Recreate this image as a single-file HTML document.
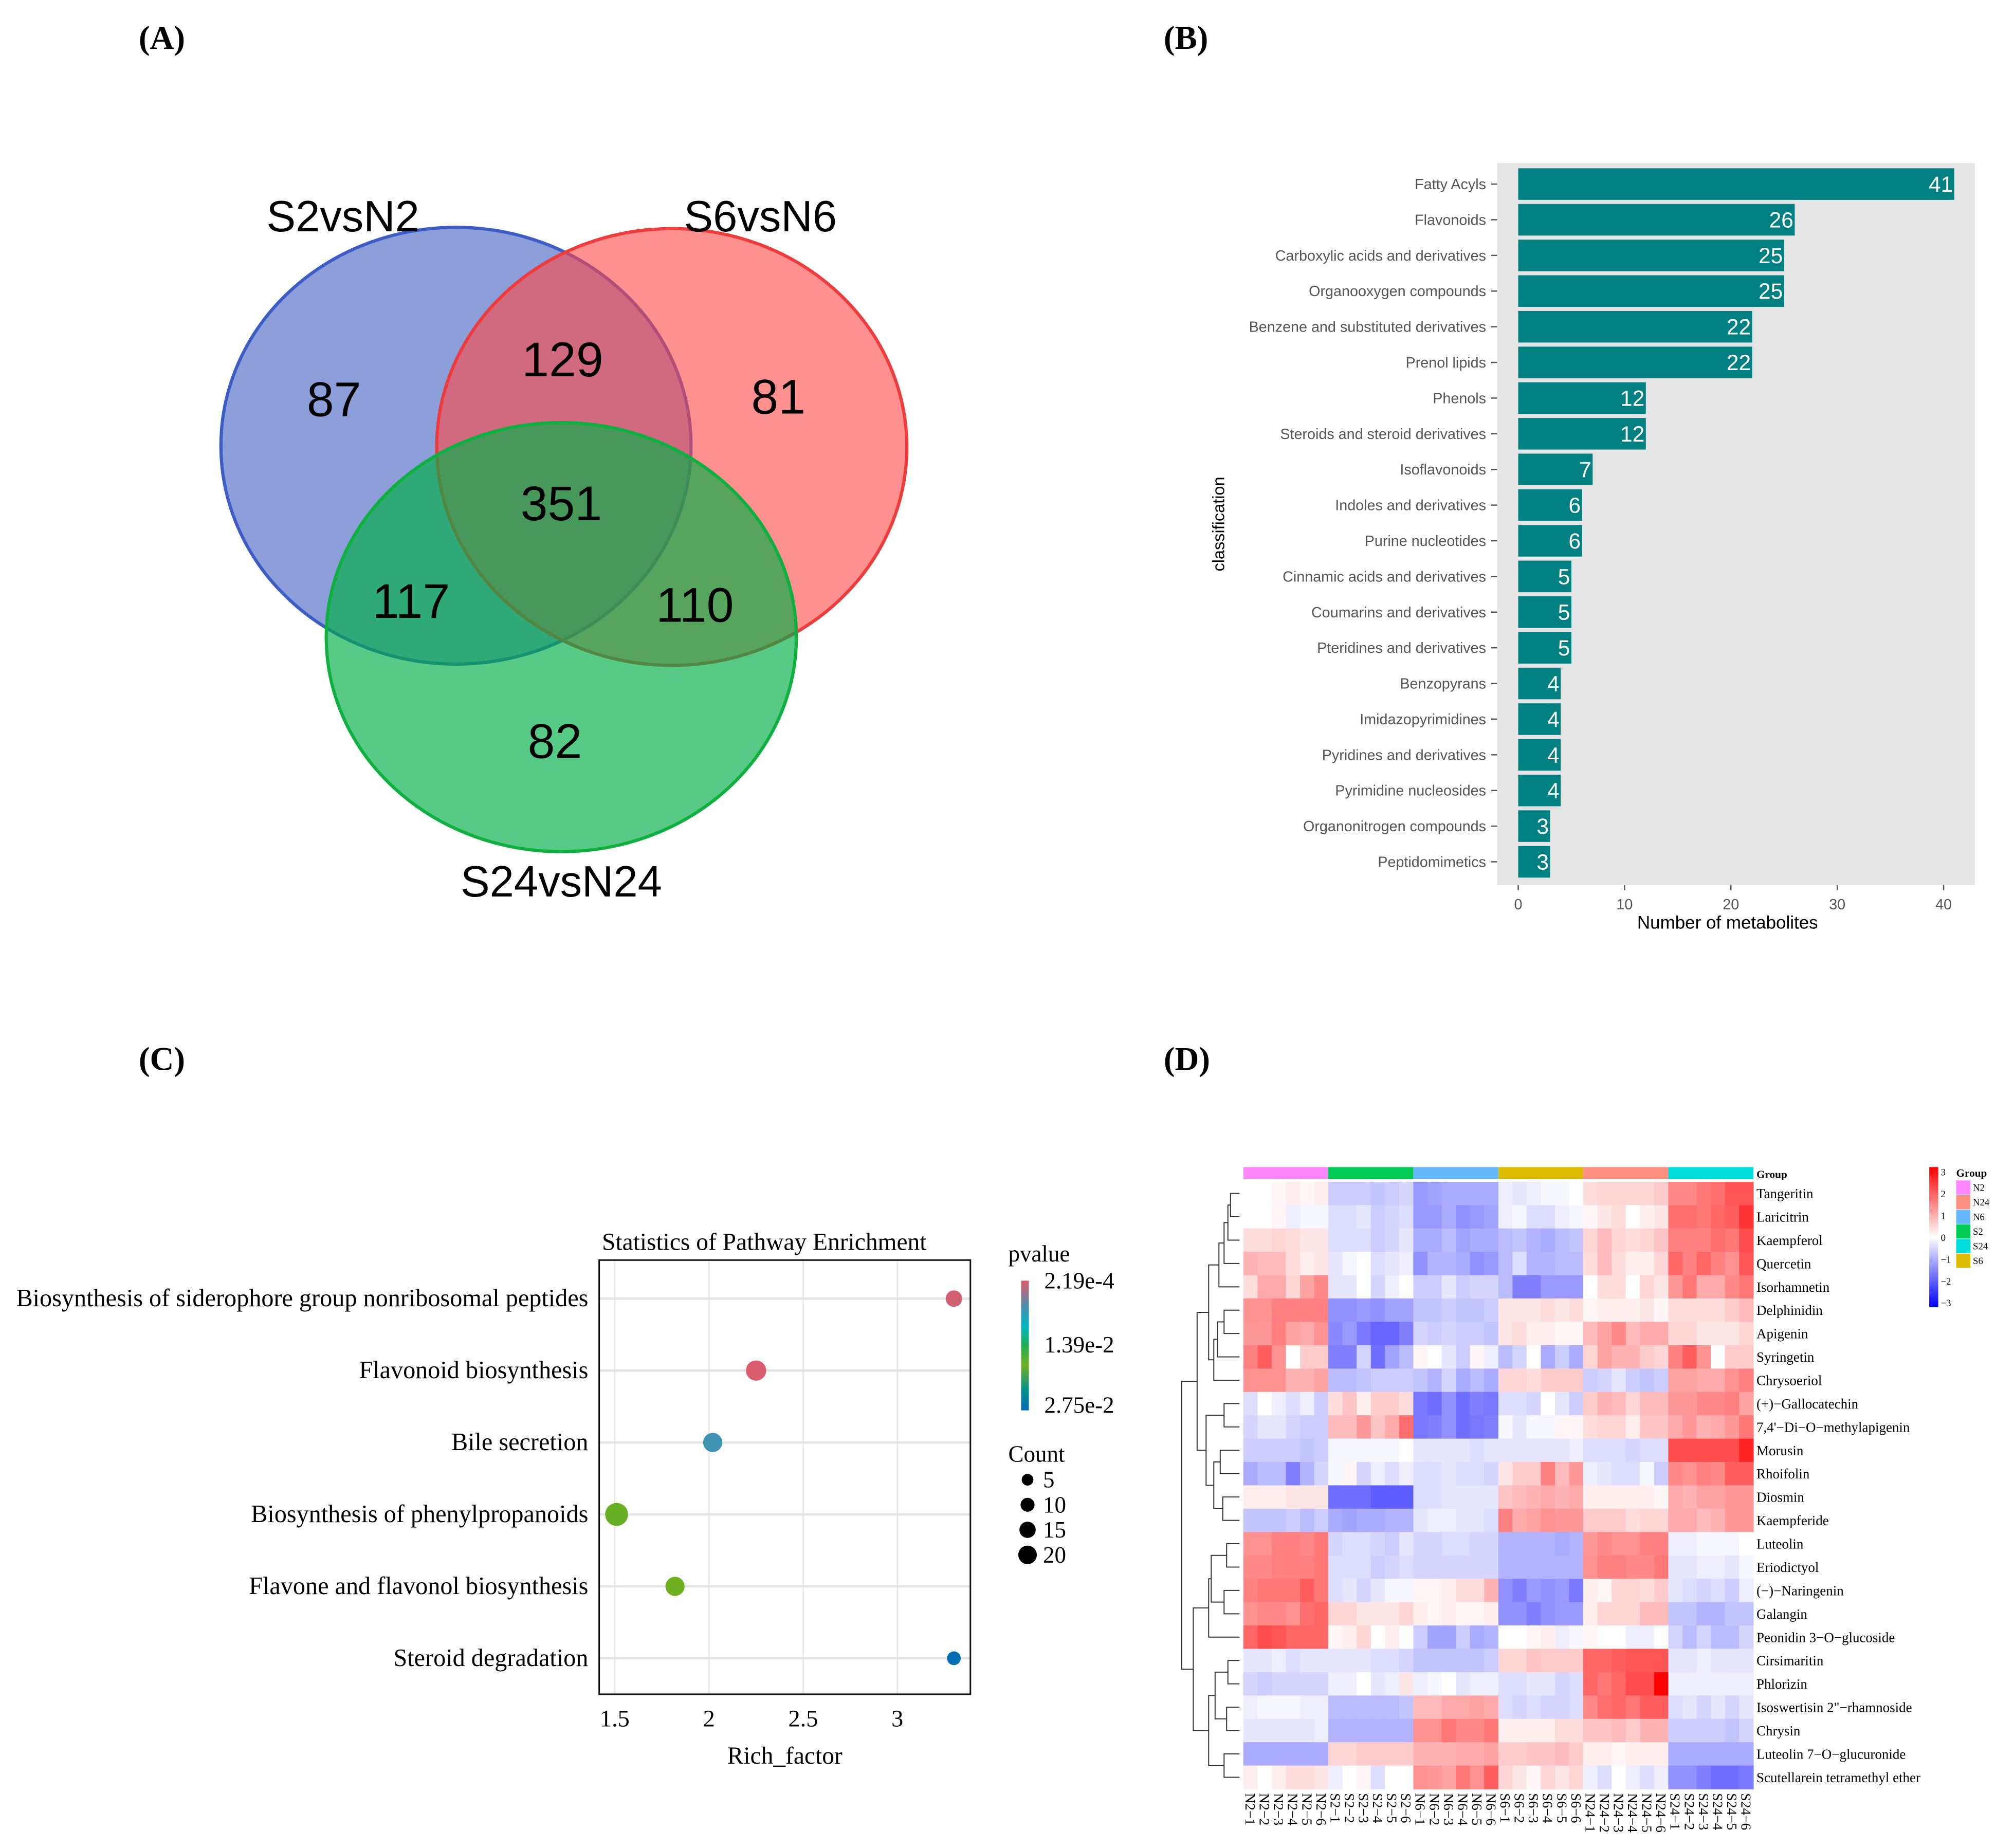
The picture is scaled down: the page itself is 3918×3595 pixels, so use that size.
<!DOCTYPE html>
<html><head><meta charset="utf-8"><style>
html,body{margin:0;padding:0;background:#fff;}
svg{display:block;}
</style></head><body>
<svg id="fig" xmlns="http://www.w3.org/2000/svg" width="3918" height="3595" viewBox="0 0 1568 1438.7" preserveAspectRatio="none">
<rect x="0" y="0" width="1568" height="1438.7" fill="#fff"/>
<g font-family="Liberation Serif, serif" font-weight="bold" font-size="26" fill="#000">
<text x="108" y="38">(A)</text>
<text x="906" y="38">(B)</text>
<text x="108" y="833">(C)</text>
<text x="906" y="833">(D)</text>
</g>
<g id="venn"></g>
<g id="bars"></g>
<g id="bubble"></g>
<g id="heat"></g>
</svg>
<script>
// ---------- Venn data ----------
const vennSets = ["S2vsN2","S6vsN6","S24vsN24"];
const vennCounts = [87,129,81,351,117,110,82];
// ---------- Bar data ----------
const barCategories = ["Fatty Acyls","Flavonoids","Carboxylic acids and derivatives","Organooxygen compounds","Benzene and substituted derivatives","Prenol lipids","Phenols","Steroids and steroid derivatives","Isoflavonoids","Indoles and derivatives","Purine nucleotides","Cinnamic acids and derivatives","Coumarins and derivatives","Pteridines and derivatives","Benzopyrans","Imidazopyrimidines","Pyridines and derivatives","Pyrimidine nucleosides","Organonitrogen compounds","Peptidomimetics"];
const barValues = [41,26,25,25,22,22,12,12,7,6,6,5,5,5,4,4,4,4,3,3];
const barTicks = [0,10,20,30,40];
// ---------- Bubble data ----------
const pathways = ["Biosynthesis of siderophore group nonribosomal peptides","Flavonoid biosynthesis","Bile secretion","Biosynthesis of phenylpropanoids","Flavone and flavonol biosynthesis","Steroid degradation"];
const richFactor = [3.3,2.25,2.02,1.51,1.82,3.3];
const pathCount = [10,17,15,22,15,5];
const pathPvalue = [0.0008,0.0004,0.0062,0.0175,0.0180,0.0272];
const richTicks = [1.5,2,2.5,3];
const countLegend = [5,10,15,20];
// ---------- Heatmap data ----------
const heatRows = ["Tangeritin","Laricitrin","Kaempferol","Quercetin","Isorhamnetin","Delphinidin","Apigenin","Syringetin","Chrysoeriol","(+)\u2212Gallocatechin","7,4'\u2212Di\u2212O\u2212methylapigenin","Morusin","Rhoifolin","Diosmin","Kaempferide","Luteolin","Eriodictyol","(\u2212)\u2212Naringenin","Galangin","Peonidin 3\u2212O\u2212glucoside","Cirsimaritin","Phlorizin","Isoswertisin 2\"\u2212rhamnoside","Chrysin","Luteolin 7\u2212O\u2212glucuronide","Scutellarein tetramethyl ether"];
const heatGroups = ["N2","S2","N6","S6","N24","S24"];
const heatValues = [
[0,0,0.1,0.2,0.1,0.2, -0.6,-0.6,-0.6,-0.7,-0.6,-0.5, -1.2,-1.1,-1,-1,-1,-1, -0.2,-0.3,-0.2,-0.1,-0.1,0, 0.4,0.5,0.5,0.5,0.5,0.6, 1.4,1.4,1.6,1.7,2,2],
[0,0,0.1,-0.2,-0.1,-0.1, -0.4,-0.4,-0.3,-0.6,-0.5,-0.4, -1.2,-1.2,-1,-1.3,-1.2,-1.1, -0.2,-0.1,-0.4,-0.4,-0.2,-0.1, 0.1,0.3,0.4,0,0.2,0.3, 1.7,1.7,1.6,1.8,1.9,2.4],
[0.4,0.4,0.5,0.4,0.3,0.3, -0.4,-0.4,-0.4,-0.6,-0.5,-0.3, -1,-1,-0.8,-1.1,-1,-1, -0.8,-0.7,-0.9,-1,-0.8,-0.7, 0.5,0.8,0.5,0.4,0.5,0.7, 1.5,1.5,1.5,1.7,1.6,2.1],
[0.9,0.8,0.8,0.4,0.2,0.3, -0.3,-0.1,0,-0.4,-0.3,-0.2, -1.3,-0.9,-0.9,-1,-1.3,-1.2, -0.8,-0.4,-0.9,-0.9,-0.8,-0.8, 0.4,0.8,0.4,0.2,0.2,0.5, 1.8,1.5,1.8,1.5,1.3,2],
[0.4,1,1,0.5,1.1,1.4, -0.3,-0.3,0,-0.5,-0.2,0, -0.6,-0.6,-0.3,-0.6,-0.5,-0.5, -0.8,-1.5,-1.5,-1.2,-1.2,-1.2, 0,0.4,0.4,0,0.5,0.3, 1.2,1.6,1,1,1.4,1.6],
[1.3,1.3,1.5,1.5,1.5,1.5, -1.3,-1.3,-1.2,-1.3,-1.1,-1.1, -0.7,-0.7,-0.6,-0.7,-0.7,-0.6, 0.3,0.3,0.3,0.4,0.3,0.4, 0.1,0.2,0.2,0.2,0.3,0.1, 0.4,0.4,0.4,0.4,0.6,0.8],
[1.2,1.2,1.5,1.1,1,1.3, -1.4,-1.2,-1.6,-1.8,-1.8,-1.5, -0.5,-0.6,-0.5,-0.6,-0.6,-0.7, 0.3,0.4,0.2,0.2,0.1,0.1, 0.8,1.1,1.4,0.8,1,1, 0.5,0.5,0.3,0.3,0.3,0.5],
[1.5,1.9,1.3,0,0.6,0.6, -1.5,-1.5,-0.5,-1.7,-1.1,-0.8, 0.1,0,-0.3,-0.6,0.1,-0.2, -0.8,-0.5,0,-1,-0.6,-1, 0.5,1.1,0.9,0.9,0.6,0.5, 1.5,1.9,1.3,0,0.6,0.6],
[1.3,1.3,1.3,0.9,0.9,1.1, -0.8,-0.8,-0.7,-0.6,-0.6,-0.6, -0.7,-0.9,-0.5,-1,-0.8,-1, 0.5,0.5,0.4,0.6,0.6,0.6, -0.6,-0.5,-0.3,-0.6,-0.7,-0.6, 1.1,1.1,1,1,1.3,1.5],
[-0.4,0,-0.2,-0.4,-0.2,-0.6, 0.4,0.7,0.2,0.6,0.6,0.4, -1.6,-1.7,-1.3,-1.7,-1.5,-1.6, -0.4,-0.4,-0.5,0,-0.3,-0.6, 0.6,0.9,0.8,0.5,0.8,0.8, 1.2,1.2,1.4,1.4,1.5,1.1],
[-0.5,-0.3,-0.3,-0.5,-0.6,-0.6, 0.8,0.8,1.2,0.7,1,1.7, -1.6,-1.5,-1.3,-1.7,-1.6,-1.5, -0.1,-0.3,-0.1,-0.1,0.1,0.1, 0.4,0.5,0.5,0.2,0.7,0.7, 1,1.2,0.9,1,1.2,1.6],
[-0.6,-0.6,-0.6,-0.6,-0.7,-0.6, -0.1,-0.1,-0.1,-0.1,-0.1,0, -0.3,-0.3,-0.3,-0.3,-0.4,-0.3, -0.3,-0.3,-0.3,-0.3,-0.3,-0.2, -0.4,-0.4,-0.4,-0.5,-0.4,-0.4, 2.1,2.1,2.1,2.1,2.1,2.6],
[-1,-0.8,-0.8,-1.5,-0.9,-0.5, -0.1,0.1,-0.5,-0.2,-0.4,-0.2, -0.4,-0.4,-0.3,-0.4,-0.4,-0.5, 0.3,0.6,0.6,1.5,0.8,1.2, -0.2,-0.3,-0.4,-0.4,-0.1,-0.6, 1.4,1.3,1.5,1.4,1.9,1.9],
[0.2,0.2,0.2,0.3,0.3,0.3, -1.7,-1.7,-1.7,-1.9,-1.9,-1.9, -0.4,-0.4,-0.3,-0.3,-0.3,-0.3, 0.7,0.8,0.9,1,0.9,1, 0.2,0.2,0.2,0.2,0.2,0.1, 1,0.9,1.1,1.1,1.2,1.2],
[-0.7,-0.7,-0.7,-0.6,-0.8,-0.6, -1,-1.1,-1,-1,-0.9,-0.9, -0.3,-0.2,-0.2,-0.3,-0.3,-0.4, 1.5,1,1.1,1.3,1.2,1.2, 0.6,0.6,0.6,0.4,0.5,0.5, 1,1,0.8,0.9,1.2,1.2],
[1.3,1.3,1.5,1.5,1.4,1.6, -0.5,-0.4,-0.4,-0.5,-0.6,-0.3, -0.5,-0.5,-0.4,-0.4,-0.5,-0.5, -0.9,-0.9,-0.9,-0.9,-1,-0.9, 1.2,1.4,1.3,1.3,1.5,1.5, -0.2,-0.2,-0.1,-0.1,-0.1,0],
[1.4,1.4,1.5,1.5,1.5,1.6, -0.4,-0.4,-0.4,-0.6,-0.5,-0.4, -0.5,-0.5,-0.5,-0.5,-0.5,-0.5, -0.9,-0.9,-0.9,-0.9,-0.9,-0.9, 1.3,1.5,1.5,1.4,1.4,1.6, -0.3,-0.3,-0.2,-0.2,-0.3,-0.1],
[1.5,1.6,1.6,1.6,1.9,1.6, -0.4,-0.3,-0.5,-0.3,-0.1,-0.1, 0.1,0.1,0.2,0.4,0.4,0.9, -1.3,-1.5,-1.2,-1.3,-1.2,-1.6, 0.2,0.1,0.5,0.5,0.4,0.6, -0.3,-0.4,-0.5,-0.4,-0.6,-0.2],
[1.3,1.4,1.4,1.3,1.7,1.8, 0.5,0.5,0.3,0.3,0.3,0.5, 0.2,0.1,0.2,0.1,0.1,0.2, -1.3,-1.3,-1.5,-1.3,-1.2,-1.2, 0.2,0.5,0.5,0.5,0.8,0.8, -0.7,-0.7,-0.9,-0.9,-0.7,-0.7],
[1.8,2.1,2,1.8,1.8,1.8, 0.1,0.2,0.5,0,0.2,0, -0.6,-1.1,-1.1,-0.6,-1,-0.9, 0,0,0.1,0.2,-0.2,-0.1, 0.1,0,0,-0.2,-0.2,0, -0.5,-0.8,-0.5,-0.8,-0.8,-0.5],
[-0.3,-0.3,-0.2,-0.4,-0.3,-0.3, -0.3,-0.3,-0.3,-0.4,-0.4,-0.5, -0.7,-0.7,-0.7,-0.7,-0.7,-0.6, 0.5,0.5,0.7,0.6,0.6,0.6, 1.8,1.8,1.9,2,2,2, -0.3,-0.3,-0.2,-0.3,-0.3,-0.3],
[-0.5,-0.6,-0.5,-0.5,-0.5,-0.5, -0.2,-0.2,0,-0.3,-0.2,0.3, -0.2,-0.1,0,-0.3,-0.2,-0.2, -0.4,-0.4,-0.3,-0.3,-0.5,-0.4, 1.8,1.6,1.8,2.1,2.1,3, -0.2,-0.2,-0.2,-0.2,-0.2,-0.2],
[-0.2,-0.1,-0.1,-0.1,-0.2,-0.2, -0.8,-0.8,-0.8,-0.8,-0.8,-0.7, 0.8,0.8,1,1,1.1,1, -0.4,-0.5,-0.4,-0.5,-0.5,-0.4, 1.4,1.7,1.8,1.6,1.9,1.9, -0.4,-0.3,-0.5,-0.3,-0.5,-0.3],
[-0.3,-0.3,-0.3,-0.3,-0.3,-0.2, -0.9,-0.9,-0.9,-0.9,-0.9,-0.9, 1.3,1.3,1.6,1.4,1.4,1.6, 0.2,0.2,0.2,0.2,0.4,0.4, 0.7,0.7,0.8,0.6,0.9,0.9, -0.6,-0.6,-0.6,-0.6,-0.7,-0.5],
[-1,-1,-1,-1,-1,-1, 0.5,0.5,0.6,0.6,0.6,0.6, 0.9,0.9,0.9,1,1,1.1, 0.6,0.6,0.7,0.7,0.8,0.6, 0.2,0.2,0.1,0.2,0.2,0.2, -1,-1,-1,-1,-1,-1],
[0.2,0,0.2,0.4,0.4,0.3, -0.2,0,0.1,-0.4,0,0, 1.3,1.2,1.1,1.6,1.3,1.9, 0.5,0.3,0.1,0.5,0.3,0.5, -0.2,-0.4,0,-0.2,-0.4,-0.2, -1.3,-1.3,-1.5,-1.7,-1.7,-1.6]
];
const colorTicks = [3,2,1,0,-1,-2,-3];
const legendGroups = ["N2","N24","N6","S2","S24","S6"];

const NS="http://www.w3.org/2000/svg";
function mk(parent,tag,attrs,text){const e=document.createElementNS(NS,tag);for(const k in attrs)e.setAttribute(k,attrs[k]);if(text!==undefined)e.textContent=text;parent.appendChild(e);return e;}

// ===== Venn =====
(function(){
const g=document.getElementById('venn');
const ells=[[355,347,183,170,'rgba(70,100,195,0.62)','#3d5cc4'],[523,348,183,170,'rgba(255,70,70,0.6)','#ee3b3b'],[437,496,183,167,'rgba(0,175,70,0.66)','#10b040']];
ells.forEach((c,i)=>{
 const e=mk(g,'ellipse',{cx:c[0],cy:c[1],rx:c[2],ry:c[3],fill:c[4],stroke:c[5],'stroke-width':2.5});
 
 
});
const lp=[[267,180],[592,180],[437,698]];
vennSets.forEach((s,i)=>{
 const t=mk(g,'text',{x:lp[i][0],y:lp[i][1],'text-anchor':'middle','font-family':'Liberation Sans, sans-serif','font-size':34},s);
 
 
});
const np=[[260,324],[438,293],[606,322],[437,405],[320,481],[541,484],[432,590]];
vennCounts.forEach((v,i)=>{
 const t=mk(g,'text',{x:np[i][0],y:np[i][1],'text-anchor':'middle','font-family':'Liberation Sans, sans-serif','font-size':38},v);
 
 
});
})();

// ===== Bar chart =====
(function(){
const g=document.getElementById('bars');
const x0=1182, sx=8.28, top=131, pitch=27.77, bh=24.6;
const px=v=>x0+v*sx;
const bg=mk(g,'rect',{x:1165.5,y:127,width:372,height:562,fill:'#e5e5e5'});


barCategories.forEach((c,i)=>{
 const y=top+i*pitch;
 const r=mk(g,'rect',{x:x0,y:y,width:px(barValues[i])-x0,height:bh,fill:'#008080'});
 
 
 const v=mk(g,'text',{x:px(barValues[i])-1,y:y+bh/2+6,'text-anchor':'end','font-family':'Liberation Sans, sans-serif','font-size':17,fill:'#fff'},barValues[i]);
 
 
 const l=mk(g,'text',{x:1157,y:y+bh/2+4,'text-anchor':'end','font-family':'Liberation Sans, sans-serif','font-size':11.5,fill:'#555'},c);
 
 
 mk(g,'line',{x1:1161,x2:1165.5,y1:y+bh/2,y2:y+bh/2,stroke:'#555','stroke-width':1});
});
barTicks.forEach(t=>{
 mk(g,'line',{x1:px(t),x2:px(t),y1:689,y2:693,stroke:'#555'});
 const tx=mk(g,'text',{x:px(t),y:708,'text-anchor':'middle','font-family':'Liberation Sans, sans-serif','font-size':11.5,fill:'#555'},t);
 
 
});
const xt=mk(g,'text',{x:1345,y:723,'text-anchor':'middle','font-family':'Liberation Sans, sans-serif','font-size':14},'Number of metabolites');


const yt=mk(g,'text',{x:0,y:0,transform:'translate(953,408) rotate(-90)','text-anchor':'middle','font-family':'Liberation Sans, sans-serif','font-size':13},'classification');


})();

// ===== Bubble chart =====
(function(){
const g=document.getElementById('bubble');
const L=466.5,R=755.5,T=981,B=1319;
const px=v=>478.6+(v-1.5)*146.7;
const rowY=i=>1011+i*56;
const rad=c=>4.3+c*0.21;
const stops=[[0,[224,90,106]],[0.2,[74,143,176]],[0.35,[0,181,197]],[0.5,[32,176,80]],[0.65,[112,176,32]],[0.85,[0,144,143]],[1,[0,106,184]]];
const pmin=0.000219,pmax=0.0275;
function pcol(p){let t=(p-pmin)/(pmax-pmin);t=Math.max(0,Math.min(1,t));
 for(let k=1;k<stops.length;k++){if(t<=stops[k][0]){const a=stops[k-1],b=stops[k];const f=(t-a[0])/(b[0]-a[0]);return 'rgb('+a[1].map((c,j)=>Math.round(c+(b[1][j]-c)*f)).join(',')+')';}}return 'rgb(0,106,184)';}
richTicks.forEach(t=>mk(g,'line',{x1:px(t),x2:px(t),y1:T,y2:B,stroke:'#e6e6e6','stroke-width':1}));
pathways.forEach((p,i)=>mk(g,'line',{x1:L,x2:R,y1:rowY(i),y2:rowY(i),stroke:'#e3e3e3','stroke-width':1.8}));
const fr=mk(g,'rect',{x:L,y:T,width:R-L,height:B-T,fill:'none',stroke:'#111','stroke-width':1.2});


pathways.forEach((p,i)=>{
 const c=mk(g,'circle',{cx:px(richFactor[i]),cy:rowY(i),r:rad(pathCount[i]),fill:pcol(pathPvalue[i])});
 
 
 const l=mk(g,'text',{x:458,y:rowY(i)+6,'text-anchor':'end','font-family':'Liberation Serif, serif','font-size':19.3},p);
 
 
});
richTicks.forEach(t=>{
 const tx=mk(g,'text',{x:px(t),y:1344,'text-anchor':'middle','font-family':'Liberation Serif, serif','font-size':18.5},t);
 
 
});
const ti=mk(g,'text',{x:595,y:973,'text-anchor':'middle','font-family':'Liberation Serif, serif','font-size':19},'Statistics of Pathway Enrichment');


const xt=mk(g,'text',{x:611,y:1373,'text-anchor':'middle','font-family':'Liberation Serif, serif','font-size':19},'Rich_factor');


// legend
const defs=mk(g,'defs',{});
const lg=mk(defs,'linearGradient',{id:'pgrad',x1:0,y1:0,x2:0,y2:1});
stops.forEach(s=>mk(lg,'stop',{offset:s[0],'stop-color':'rgb('+s[1].join(',')+')'}));
const pl=mk(g,'text',{x:785,y:982,'font-family':'Liberation Serif, serif','font-size':18},'pvalue');


const cb=mk(g,'rect',{x:795,y:997,width:6,height:101,fill:'url(#pgrad)'});


[['2.19e-4',1003],['1.39e-2',1053],['2.75e-2',1100]].forEach(a=>{
 const t=mk(g,'text',{x:813,y:a[1],'font-family':'Liberation Serif, serif','font-size':18},a[0]);
 
 
});
const cl=mk(g,'text',{x:785,y:1138,'font-family':'Liberation Serif, serif','font-size':18},'Count');


countLegend.forEach((c,i)=>{
 const y=1152+i*19.5;
 const d=mk(g,'circle',{cx:800,cy:y,r:rad(c)*0.85,fill:'#000'});
 
 
 const t=mk(g,'text',{x:812,y:y+6,'font-family':'Liberation Serif, serif','font-size':18},c);
 
 
});
})();

// ===== Heatmap =====
(function(){
const g=document.getElementById('heat');
const X0=968, X1=1365, Y0=920, Y1=1392.7;
const cw=(X1-X0)/36, rh=(Y1-Y0)/26;
const gcol={N2:'#ff88ff',S2:'#00cc55',N6:'#66b8ff',S6:'#ddbb00',N24:'#ff8f80',S24:'#00dddd'};
function hcol(v){v=Math.max(-3,Math.min(3,v));if(v>=0){const f=v/3;const c=Math.round(255*(1-f));return 'rgb(255,'+c+','+c+')';}const f=-v/3;const c=Math.round(255*(1-f));return 'rgb('+c+','+c+',255)';}
heatGroups.forEach((gr,k)=>{
 const r=mk(g,'rect',{x:X0+k*6*cw,y:908.6,width:6*cw,height:9.4,fill:gcol[gr]});
 
 
});
const gt=mk(g,'text',{x:1367.5,y:917,'font-family':'Liberation Serif, serif','font-size':8.5,'font-weight':'bold'},'Group');


heatValues.forEach((row,i)=>{
 row.forEach((v,j)=>{
  const r=mk(g,'rect',{x:X0+j*cw,y:Y0+i*rh,width:cw+0.3,height:rh+0.3,fill:hcol(v)});
  
  
 });
 const t=mk(g,'text',{x:1367.5,y:Y0+i*rh+rh/2+3.8,'font-family':'Liberation Serif, serif','font-size':10.8},heatRows[i]);
 
 
});
for(let j=0;j<36;j++){
 const lab=heatGroups[Math.floor(j/6)]+'\u2212'+(j%6+1);
 const cx=X0+j*cw+cw/2;
 const t=mk(g,'text',{x:0,y:0,transform:'translate('+(cx-3.8)+',1396) rotate(90)','font-family':'Liberation Serif, serif','font-size':11},lab);
 
 
}
// dendrogram
const T=[[[[[[[0,1,7],2,9],3,12],4,16],[[[5,6,12],7,17],8,20],24],[[9,10,12],[[11,12,15],[13,14,13],20],26],33],[[[[15,16,10],[17,18,12],22],19,24],[[[20,21,9],[22,23,10],19],[24,25,12],24],36],45];
function dd(n){
 if(typeof n==='number')return {x:965,y:Y0+n*rh+rh/2};
 const a=dd(n[0]),b=dd(n[1]);const x=965-n[2];
 const p=mk(g,'path',{d:'M'+a.x+','+a.y+'H'+x+'V'+b.y+'H'+b.x,fill:'none',stroke:'#333','stroke-width':0.8});
 
 
 return {x:x,y:(a.y+b.y)/2};
}
dd(T);
// color legend
const defs=mk(g,'defs',{});
const lg=mk(defs,'linearGradient',{id:'hgrad',x1:0,y1:0,x2:0,y2:1});
mk(lg,'stop',{offset:0,'stop-color':'#ff0000'});mk(lg,'stop',{offset:0.5,'stop-color':'#ffffff'});mk(lg,'stop',{offset:1,'stop-color':'#0000ff'});
const cb=mk(g,'rect',{x:1502,y:908.6,width:7,height:109,fill:'url(#hgrad)'});


colorTicks.forEach((t,i)=>{
 const y=912+i*17;
 const tx=mk(g,'text',{x:1511,y:y+3,'font-family':'Liberation Serif, serif','font-size':7.5},t===0?'0':(t<0?'\u2212'+(-t):t));
 
 
});
const glt=mk(g,'text',{x:1523,y:916,'font-family':'Liberation Serif, serif','font-size':8.5,'font-weight':'bold'},'Group');


legendGroups.forEach((gr,i)=>{
 const y=919+i*11.4;
 const r=mk(g,'rect',{x:1523,y:y,width:11,height:11,fill:gcol[gr]});
 
 
 const t=mk(g,'text',{x:1536,y:y+8,'font-family':'Liberation Serif, serif','font-size':7.5},gr);
 
 
});
})();
</script>
</body></html>
